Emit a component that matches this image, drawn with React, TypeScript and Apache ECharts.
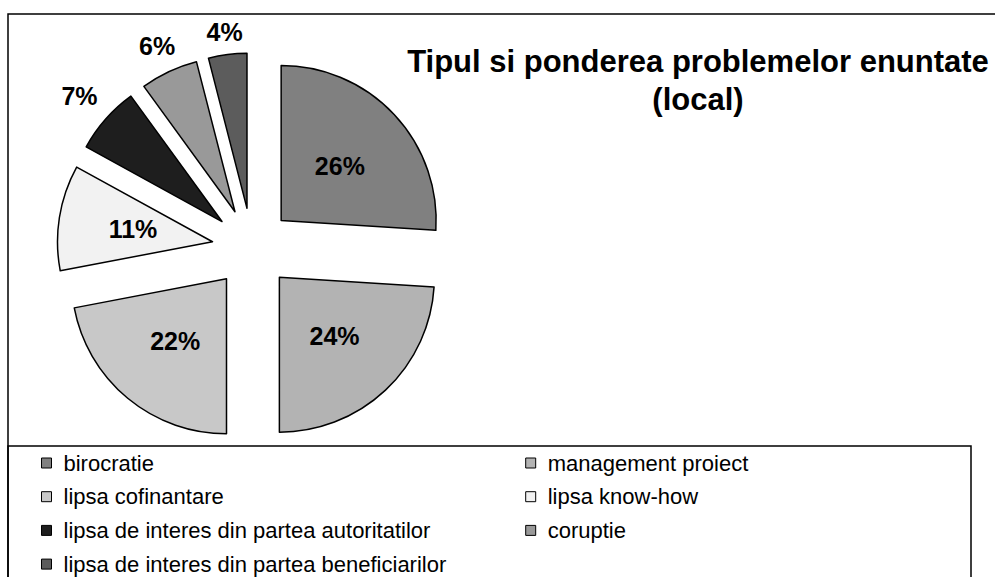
import React, { useEffect, useRef } from "react";
import * as echarts from "echarts";

const categories = [
  "birocratie",
  "management proiect",
  "lipsa cofinantare",
  "lipsa know-how",
  "lipsa de interes din partea autoritatilor",
  "coruptie",
  "lipsa de interes din partea beneficiarilor",
];
const values = [26, 24, 22, 11, 7, 6, 4];
const titleText = "Tipul si ponderea problemelor enuntate\n(local)";

const colors = ["#808080", "#b3b3b3", "#c8c8c8", "#f2f2f2", "#1e1e1e", "#999999", "#5c5c5c"];
const outerLabelLen = [0, 0, 0, 0, 35, 28, 23];
const FONT = '"Liberation Sans", Arial, Helvetica, sans-serif';

export default function App() {
  const ref = useRef<HTMLDivElement>(null);
  useEffect(() => {
    if (!ref.current) return;
    const chart = echarts.init(ref.current, undefined, { renderer: "svg" });
    const data = categories.map((name, i) => {
      const item: any = {
        name,
        value: values[i],
        selected: true,
        itemStyle: { color: colors[i] },
      };
      if (values[i] < 10) {
        item.label = { position: "outside", distanceToLabelLine: 0 };
        item.labelLine = { show: false, length: outerLabelLen[i], length2: 0 };
      }
      return item;
    });
    chart.setOption({
      animation: false,
      backgroundColor: "#ffffff",
      graphic: [
        {
          type: "rect",
          z: 0,
          shape: { x: 8, y: 14, width: 1000, height: 600 },
          style: { fill: "none", stroke: "#000", lineWidth: 1.5 },
          silent: true,
        },
        {
          type: "rect",
          z: 0,
          shape: { x: 8, y: 446, width: 963, height: 200 },
          style: { fill: "none", stroke: "#000", lineWidth: 1.5 },
          silent: true,
        },
        {
          type: "text",
          x: 698,
          y: 42,
          style: {
            text: titleText,
            align: "center",
            verticalAlign: "top",
            fontFamily: FONT,
            fontSize: 31,
            fontWeight: "bold",
            lineHeight: 38,
            fill: "#000",
          },
          silent: true,
        },
      ],
      legend: {
        left: 41,
        top: 451,
        width: 985,
        padding: 0,
        orient: "horizontal",
        icon: "rect",
        itemWidth: 10,
        itemHeight: 10,
        itemGap: 9.7,
        selectedMode: false,
        itemStyle: { borderColor: "#000", borderWidth: 1 },
        textStyle: {
          fontFamily: FONT,
          fontSize: 22,
          color: "#000",
          width: 452,
          lineHeight: 24,
          padding: [0, 0, 0, 7],
        },
        data: categories,
      },
      series: [
        {
          type: "pie",
          center: [252, 248],
          radius: 155,
          startAngle: 90,
          clockwise: true,
          selectedMode: "multiple",
          selectedOffset: 40,
          avoidLabelOverlap: false,
          emphasis: { disabled: true },
          itemStyle: { borderColor: "#000", borderWidth: 1.5 },
          label: {
            show: true,
            position: "inside",
            formatter: "{c}%",
            fontFamily: FONT,
            fontSize: 25,
            fontWeight: "bold",
            color: "#000",
          },
          labelLine: { show: false },
          labelLayout: (p: any) =>
            values[p.dataIndex] < 10 ? { align: "center" } : {},
          data,
        },
      ],
    });
    return () => chart.dispose();
  }, []);
  return (
    <div
      ref={ref}
      style={{ position: "fixed", left: 0, top: 0, width: 995, height: 577 }}
    />
  );
}
